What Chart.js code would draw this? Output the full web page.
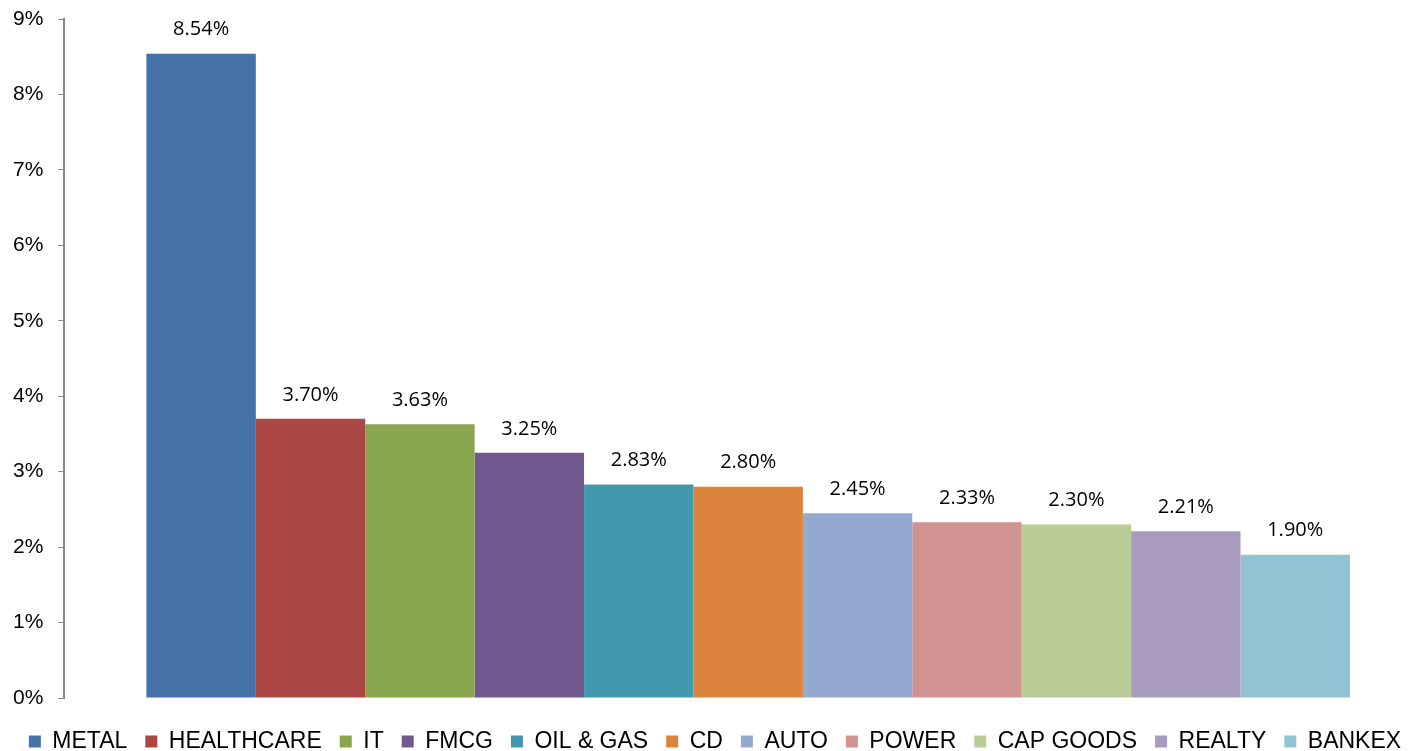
<!DOCTYPE html>
<html>
<head>
<meta charset="utf-8">
<script src="https://cdn.jsdelivr.net/npm/chart.js@4/dist/chart.umd.min.js"></script>
<style>
html,body{margin:0;padding:0;overflow:hidden;background:#fff;}
#wrap{width:1432px;height:751px;position:relative;}
</style>
</head>
<body>
<div id="wrap"><canvas id="c"></canvas></div>
<script>
const sectors = ["METAL","HEALTHCARE","IT","FMCG","OIL & GAS","CD","AUTO","POWER","CAP GOODS","REALTY","BANKEX"];
const returns = [8.54, 3.70, 3.63, 3.25, 2.83, 2.80, 2.45, 2.33, 2.30, 2.21, 1.90];
const colors = ["#4572A7","#AA4643","#89A54E","#71588F","#4198AF","#DB843D","#93A9CF","#D19392","#B9CD96","#A99BBD","#92C3D4"];
const yTicks = [0,1,2,3,4,5,6,7,8,9];

const datasets = sectors.map((s,i)=>({
  label: s,
  data: [returns[i]],
  backgroundColor: colors[i],
  borderWidth: 0,
  categoryPercentage: 0.88,
  barPercentage: 1.0
}));

const labelPlugin = {
  id: 'valueLabels',
  afterDatasetsDraw(chart){
    const ctx = chart.ctx;
    ctx.save();
    ctx.font = '20px "Open Sans"';
    ctx.fillStyle = '#000';
    ctx.textAlign = 'center';
    ctx.textBaseline = 'middle';
    chart.data.datasets.forEach((ds,i)=>{
      const meta = chart.getDatasetMeta(i);
      meta.data.forEach((el,j)=>{
        ctx.fillText(ds.data[j].toFixed(2)+'%', el.x, el.y - 24);
      });
    });
    ctx.restore();
  }
};

function build(){
new Chart(document.getElementById('c'), {
  type: 'bar',
  data: { labels: [''], datasets },
  options: {
    responsive: true,
    maintainAspectRatio: false,
    animation: false,
    layout: { padding: { top: 0, left: -2, right: 0, bottom: -12 } },
    plugins: {
      legend: {
        position: 'bottom',
        labels: {
          boxWidth: 12, boxHeight: 12, padding: 18,
          color: '#000',
          font: { family: "'Liberation Sans'", size: 23 }
        }
      },
      tooltip: { enabled: false }
    },
    scales: {
      x: {
        grid: { display: false },
        border: { display: false },
        ticks: { display: false },
        afterFit(axis){ axis.height = axis.height + 6; }
      },
      y: {
        min: 0, max: 9,
        afterBuildTicks(axis){ axis.ticks = yTicks.map(v=>({value:v})); },
        afterFit(axis){ axis.paddingTop = 19; },
        grid: { drawOnChartArea: false, drawTicks: true, tickLength: 6, color: '#868686' },
        border: { display: true, color: '#868686', width: 2 },
        ticks: {
          padding: 15,
          color: '#000',
          font: { family: "'Liberation Sans'", size: 21 },
          callback: v => v + '%'
        }
      }
    }
  },
  plugins: [labelPlugin]
});
}
Promise.all([
  document.fonts.load("23px 'Liberation Sans'"),
  document.fonts.load("21px 'Liberation Sans'"),
  document.fonts.load("20px 'Open Sans'")
]).then(build, build);
</script>
</body>
</html>
